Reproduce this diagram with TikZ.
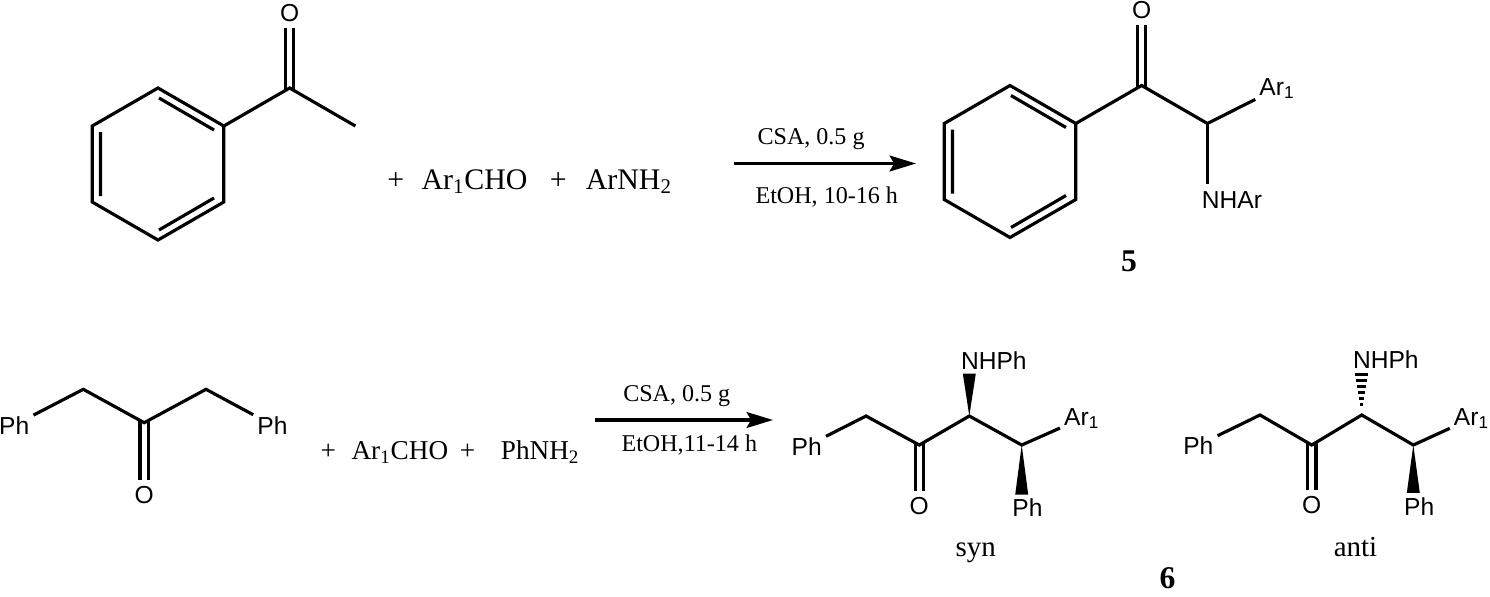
\documentclass[tikz,border=0pt]{standalone}
\usepackage{fontspec}
\setmainfont{Liberation Serif}
\setsansfont{Liberation Sans}
\usetikzlibrary{arrows.meta, calc}

\begin{document}
\begin{tikzpicture}[x=0.02cm,y=-0.02cm,line width=1.8pt,
    >={Stealth[length=15pt,width=9pt,inset=2.5pt]},
    atom/.style={font=\sffamily\fontsize{14}{16}\selectfont,inner sep=1.5pt,anchor=base},
    oxy/.style={atom,inner sep=2.5pt},
    chem/.style={font=\fontsize{17}{20}\selectfont,inner sep=0pt,anchor=base west},
    chemsm/.style={chem,font=\fontsize{15.5}{18}\selectfont},
    cond/.style={font=\fontsize{13.7}{16}\selectfont,inner sep=0pt,anchor=base west},
    tag/.style={font=\fontsize{16.5}{19}\selectfont,inner sep=0pt,anchor=base},
    cmpd/.style={font=\bfseries\fontsize{18}{21}\selectfont,inner sep=0pt,anchor=base},
    dbl/.style={double,double distance=3pt,shorten <=-1.5pt},
    hash/.style={line width=1.2pt},
    rxn/.style={->,line width=1.8pt}]
\useasboundingbox (0,0) rectangle (1490,596);

% acetophenone
\begin{scope}[shift={(158,164)}]
  \coordinate (a1) at (0,-76);    \coordinate (a2) at (65.8,-38);
  \coordinate (a3) at (65.8,38);  \coordinate (a4) at (0,76);
  \coordinate (a5) at (-65.8,38); \coordinate (a6) at (-65.8,-38);
  \draw (a1) -- (a2) -- (a3) -- (a4) -- (a5) -- (a6) -- cycle;
  \draw (1,-66) -- (56,-34) (1,66) -- (56,34) (-57.5,-32) -- (-57.5,32);
\end{scope}
\coordinate (ca) at (289.6,88);
\coordinate (me) at (355.4,126);
\node[oxy] (o1) at (289.6,21.7) {O};
\draw[dbl] (ca) -- (o1);
\draw (a2) -- (ca) -- (me);

\node[chem,anchor=base] (p1) at (395.9,189.3) {+};
\node[chem] (ald1) at (420,189.3) {Ar\textsubscript{1}CHO};
\node[chem,anchor=base] (p2) at (558.4,189.3) {+};
\node[chem] (amn1) at (584.3,189.3) {ArNH\textsubscript{2}};

\coordinate (r1s) at (734,163.5);
\coordinate (r1e) at (916,163.5);
\draw[rxn] (r1s) -- (r1e);
\node[cond] (c1a) at (756,144.6) {CSA, 0.5 g};
\node[cond] (c1b) at (754,203.6) {EtOH, 10-16 h};

% product 5
\begin{scope}[shift={(1010,161.5)}]
  \coordinate (b1) at (0,-76);    \coordinate (b2) at (65.8,-38);
  \coordinate (b3) at (65.8,38);  \coordinate (b4) at (0,76);
  \coordinate (b5) at (-65.8,38); \coordinate (b6) at (-65.8,-38);
  \draw (b1) -- (b2) -- (b3) -- (b4) -- (b5) -- (b6) -- cycle;
  \draw (1,-66) -- (56,-34) (1,66) -- (56,34) (-57.5,-32) -- (-57.5,32);
\end{scope}
\coordinate (cb) at (1141.6,85.5);
\coordinate (cc) at (1207.4,123.5);
\node[oxy] (o2) at (1141.6,18.3) {O};
\node[atom] (ar1) at (1277,95) {Ar\textsubscript{1}};
\node[atom] (nhar) at (1231.9,208.3) {NHAr};
\draw[dbl] (cb) -- (o2);
\draw (b2) -- (cb) -- (cc) -- (ar1);
\draw[shorten >=2pt] (cc) -- (cc |- nhar.north);
\node[cmpd] (n5) at (1129,271.7) {5};

% dibenzyl ketone
\coordinate (k1) at (83.3,389.3);
\coordinate (k2) at (144.2,422.7);
\coordinate (k3) at (206,389.3);
\node[atom] (phk1) at (14.2,434) {Ph};
\node[atom] (phk2) at (272.5,434) {Ph};
\node[oxy] (ok) at (144.2,503.3) {O};
\draw[dbl] (k2) -- (ok);
\draw (phk1) -- (k1) -- (k2) -- (k3) -- (phk2);

\node[chemsm,anchor=base] (p3) at (328.3,459.3) {+};
\node[chemsm] (ald2) at (350,459.3) {Ar\textsubscript{1}CHO};
\node[chemsm,anchor=base] (p4) at (467.5,459.3) {+};
\node[chemsm] (amn2) at (499.3,459.3) {PhNH\textsubscript{2}};

\coordinate (r2s) at (595,420);
\coordinate (r2e) at (773,420);
\draw[rxn] (r2s) -- (r2e);
\node[cond] (c2a) at (621.7,401.7) {CSA, 0.5 g};
\node[cond] (c2b) at (620,451.7) {EtOH,11-14 h};

% syn
\coordinate (s1) at (866,416);
\coordinate (s2) at (919.3,445);
\coordinate (s3) at (969.3,416);
\coordinate (s4) at (1021.7,445);
\node[atom] (phs1) at (806.7,455) {Ph};
\node[atom] (nhs) at (993.8,369.3) {NHPh};
\node[atom] (ars) at (1081.7,425) {Ar\textsubscript{1}};
\node[oxy] (os) at (919.3,514.3) {O};
\node[atom] (phs2) at (1027.5,516.7) {Ph};
\draw[dbl] (s2) -- (os);
\draw (phs1) -- (s1) -- (s2) -- (s3) -- (s4) -- (ars);
\fill (s3) -- ($(s3 |- nhs.south)+(-6.5,0)$) -- ($(s3 |- nhs.south)+(6.5,0)$) -- cycle;
\fill (s4) -- ($(s4 |- phs2.north)+(-6.5,0)$) -- ($(s4 |- phs2.north)+(6.5,0)$) -- cycle;
\node[tag] (syn) at (975.8,556.7) {syn};

% anti
\coordinate (t1) at (1260,415);
\coordinate (t2) at (1311.7,445);
\coordinate (t3) at (1361.7,415);
\coordinate (t4) at (1413.3,445);
\node[atom] (pha1) at (1198.3,454) {Ph};
\node[atom] (nha) at (1385.8,368.3) {NHPh};
\node[atom] (ara) at (1471.5,425) {Ar\textsubscript{1}};
\node[oxy] (oa) at (1311.7,513.3) {O};
\node[atom] (pha2) at (1419.2,515) {Ph};
\draw[dbl] (t2) -- (oa);
\draw (pha1) -- (t1) -- (t2) -- (t3) -- (t4) -- (ara);
\foreach \k in {0,...,5}
  \draw[hash] ($(t3 |- nha.south)+(-6.5+\k,2+6*\k)$) -- ($(t3 |- nha.south)+(6.5-\k,2+6*\k)$);
\fill (t4) -- ($(t4 |- pha2.north)+(-6.5,0)$) -- ($(t4 |- pha2.north)+(6.5,0)$) -- cycle;
\node[tag] (anti) at (1355.5,556.7) {anti};
\node[cmpd] (n6) at (1167.5,588) {6};
\end{tikzpicture}
\end{document}
